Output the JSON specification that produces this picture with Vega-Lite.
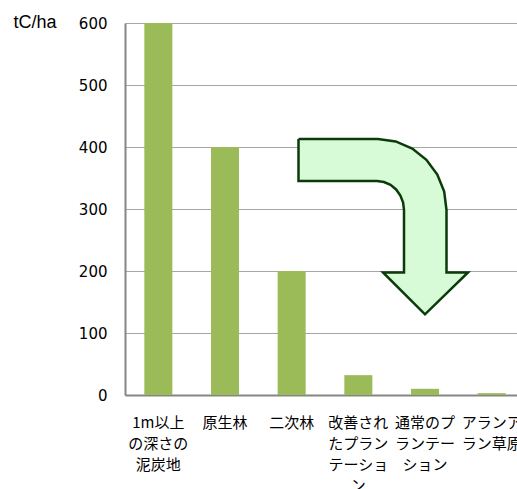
{
  "$schema": "https://vega.github.io/schema/vega-lite/v6.json",
  "width": 400,
  "height": 372,
  "autosize": {"type": "none"},
  "padding": {"left": 125, "top": 23, "right": 0, "bottom": 94},
  "background": "white",
  "config": {"view": {"stroke": null}},
  "datasets": {
    "bars": [
      {"category": "1m以上の深さの泥炭地", "carbon": 600},
      {"category": "原生林", "carbon": 400},
      {"category": "二次林", "carbon": 200},
      {"category": "改善されたプランテーション", "carbon": 32},
      {"category": "通常のプランテーション", "carbon": 10},
      {"category": "アランアラン草原", "carbon": 3}
    ],
    "arrow": [
      {"k": 1, "gx": 2.6025, "gy": 412.9},
      {"k": 2, "gx": 3.795, "gy": 412.9},
      {"k": 3, "gx": 4.0605, "gy": 409.0},
      {"k": 4, "gx": 4.309, "gy": 397.6},
      {"k": 5, "gx": 4.521, "gy": 379.4},
      {"k": 6, "gx": 4.6845, "gy": 355.6},
      {"k": 7, "gx": 4.788, "gy": 328.1},
      {"k": 8, "gx": 4.8225, "gy": 298.4},
      {"k": 9, "gx": 4.8225, "gy": 197.6},
      {"k": 10, "gx": 5.145, "gy": 197.6},
      {"k": 11, "gx": 4.5, "gy": 130.2},
      {"k": 12, "gx": 3.87, "gy": 197.6},
      {"k": 13, "gx": 4.185, "gy": 197.6},
      {"k": 14, "gx": 4.185, "gy": 298.4},
      {"k": 15, "gx": 4.1715, "gy": 310.5},
      {"k": 16, "gx": 4.131, "gy": 321.8},
      {"k": 17, "gx": 4.0665, "gy": 331.5},
      {"k": 18, "gx": 3.9825, "gy": 338.9},
      {"k": 19, "gx": 3.885, "gy": 343.5},
      {"k": 20, "gx": 3.78, "gy": 345.2},
      {"k": 21, "gx": 2.6025, "gy": 345.2},
      {"k": 22, "gx": 2.6025, "gy": 412.9}
    ]
  },
  "layer": [
    {
      "data": {"name": "bars"},
      "mark": {"type": "bar", "color": "#9bbb59"},
      "encoding": {
        "x": {
          "field": "category",
          "type": "nominal",
          "sort": null,
          "scale": {"paddingInner": 0.58, "paddingOuter": 0.29},
          "axis": {
            "title": null,
            "ticks": false,
            "domainColor": "#868686",
            "domainWidth": 2,
            "labelAngle": 0,
            "labelAlign": "center",
            "labelBaseline": "top",
            "labelFont": "Noto Sans CJK JP",
            "labelFontSize": 15,
            "labelColor": "#000000",
            "labelLineHeight": 21,
            "labelPadding": 20,
            "labelLimit": 0,
            "labelOverlap": false,
            "labelBound": false,
            "labelExpr": "length(datum.label) <= 4 ? datum.label : length(datum.label) <= 8 ? [substring(datum.label,0,4), substring(datum.label,4)] : length(datum.label) <= 12 ? [substring(datum.label,0,4), substring(datum.label,4,8), substring(datum.label,8)] : [substring(datum.label,0,4), substring(datum.label,4,8), substring(datum.label,8,12), substring(datum.label,12)]"
          }
        },
        "y": {
          "field": "carbon",
          "type": "quantitative",
          "scale": {"domain": [0, 600], "nice": false},
          "axis": {
            "values": [0, 100, 200, 300, 400, 500, 600],
            "title": "tC/ha",
            "titleAngle": 0,
            "titleAlign": "left",
            "titleBaseline": "top",
            "titleX": -112,
            "titleY": -10,
            "titleFont": "Liberation Sans",
            "titleFontSize": 18,
            "titleFontWeight": "normal",
            "titleColor": "#000000",
            "ticks": false,
            "domainColor": "#868686",
            "domainWidth": 2,
            "gridColor": "#a6a6a6",
            "gridWidth": 1,
            "labelFont": "DejaVu Sans",
            "labelFontSize": 15,
            "labelColor": "#000000",
            "labelPadding": 18
          }
        }
      }
    },
    {
      "data": {"name": "arrow"},
      "mark": {"type": "line", "fill": "#d6fbd6", "stroke": "#0b3b0b", "strokeWidth": 2.5, "strokeJoin": "miter", "interpolate": "linear"},
      "encoding": {
        "x": {"field": "gx", "type": "quantitative", "scale": {"domain": [0, 6], "nice": false, "zero": false}, "axis": null},
        "y": {"field": "gy", "type": "quantitative"},
        "order": {"field": "k", "type": "quantitative"}
      }
    }
  ],
  "resolve": {"scale": {"x": "independent"}}
}
